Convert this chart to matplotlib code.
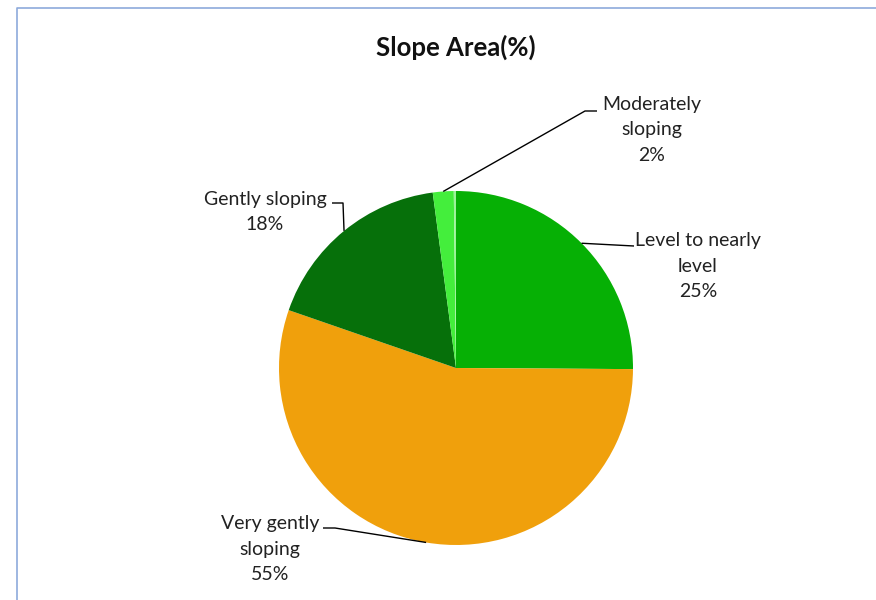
import numpy as np
import matplotlib.pyplot as plt

plt.rcParams['font.family'] = ['Lato', 'DejaVu Sans']

# slope classes, clockwise from 12 o'clock
categories = ["Level to nearly\nlevel", "Very gently\nsloping", "Gently sloping",
              "Moderately\nsloping", ""]
shares = [25.1, 55.2, 17.6, 1.9, 0.2]
pct_labels = ["25%", "55%", "18%", "2%", ""]
colors = ["#06B005", "#F0A00C", "#06700A", "#44EE3C", "#9CF29A"]

W, H = 876, 600
fig = plt.figure(figsize=(W / 100, H / 100), dpi=100)
ax = fig.add_axes([0, 0, 1, 1])

cx, cy, r = 456, H - 368, 177
wedges, _ = ax.pie(shares, colors=colors, startangle=90, counterclock=False,
                   center=(cx, cy), radius=r, frame=True,
                   wedgeprops=dict(linewidth=0))
ax.set_xlim(0, W)
ax.set_ylim(0, H)
ax.axis('off')

# label layout: (text x, text y, elbow points in pixel coords)
layout = [
    (698, 266, [(634, 246)]),
    (270, 549, [(335, 528), (323, 528)]),
    (265, 212, [(343, 203), (332, 203)]),
    (652, 130, [(585, 111), (597, 111)]),
]

for i, (tx, ty, elbows) in enumerate(layout):
    w = wedges[i]
    mid = np.deg2rad((w.theta1 + w.theta2) / 2)
    ax_pt = (cx + r * np.cos(mid), cy + r * np.sin(mid))
    pts = [ax_pt] + [(x, H - y) for x, y in elbows]
    xs, ys = zip(*pts)
    ax.plot(xs, ys, color='black', lw=1, solid_capstyle='butt')
    ax.text(tx, H - ty, categories[i] + "\n" + pct_labels[i], ha='center', va='center',
            fontsize=14, color='#222222', linespacing=1.6)

ax.text(456, H - 47, "Slope Area(%)", ha='center', va='center',
        fontsize=18.5, fontweight='bold', color='#111111')

# chart border (top and left visible in the crop)
ax.plot([17, 17, W + 5], [-5, H - 8, H - 8], color='#8EAADB', lw=1.2)

fig.savefig('out.png', dpi=100)
